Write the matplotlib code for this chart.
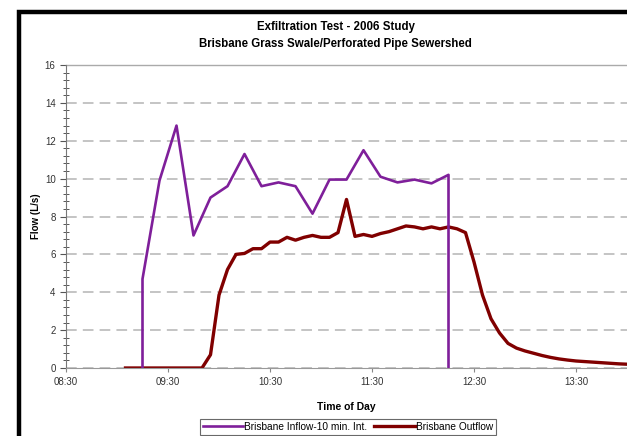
import matplotlib.pyplot as plt
from matplotlib.ticker import MultipleLocator, FuncFormatter
from matplotlib.patches import Rectangle

plt.rcParams['font.family'] = ['Liberation Sans', 'DejaVu Sans']

# Inflow, 10 minute intervals (time as "HH:MM", flow in L/s)
inflow_time = ['09:15', '09:15', '09:25', '09:35', '09:45', '09:55', '10:05',
               '10:15', '10:25', '10:35', '10:45', '10:55', '11:05', '11:15',
               '11:25', '11:35', '11:45', '11:55', '12:05', '12:15', '12:15']
inflow_flow = [0.0, 4.7, 9.9, 12.8, 7.0, 9.0, 9.6,
               11.3, 9.6, 9.8, 9.6, 8.15, 9.95, 9.95,
               11.5, 10.1, 9.8, 9.95, 9.75, 10.2, 0.0]

# Outflow, 5 minute intervals
outflow_time = ['09:05', '09:10', '09:15', '09:20', '09:25', '09:30', '09:35',
                '09:40', '09:45', '09:50', '09:55', '10:00', '10:05', '10:10',
                '10:15', '10:20', '10:25', '10:30', '10:35', '10:40', '10:45',
                '10:50', '10:55', '11:00', '11:05', '11:10', '11:15', '11:20',
                '11:25', '11:30', '11:35', '11:40', '11:45', '11:50', '11:55',
                '12:00', '12:05', '12:10', '12:15', '12:20', '12:25', '12:30',
                '12:35', '12:40', '12:45', '12:50', '12:55', '13:00', '13:05',
                '13:10', '13:15', '13:20', '13:25', '13:30', '13:35', '13:40',
                '13:45', '13:50', '13:55', '14:00']
outflow_flow = [0, 0, 0, 0, 0, 0, 0,
                0, 0, 0, 0.7, 3.85, 5.2, 6.0,
                6.05, 6.3, 6.3, 6.65, 6.65, 6.9, 6.75,
                6.9, 7.0, 6.9, 6.9, 7.15, 8.9, 6.95,
                7.05, 6.95, 7.1, 7.2, 7.35, 7.5, 7.45,
                7.35, 7.45, 7.35, 7.45, 7.35, 7.15, 5.6,
                3.85, 2.6, 1.85, 1.3, 1.05, 0.9, 0.78,
                0.66, 0.56, 0.48, 0.42, 0.37, 0.34, 0.31,
                0.28, 0.25, 0.22, 0.2]

x_ticks = ['08:30', '09:30', '10:30', '11:30', '12:30', '13:30']


def to_hours(s):
    h, m = s.split(':')
    return int(h) + int(m) / 60


fig = plt.figure(figsize=(6.27, 4.36), dpi=100)
ax = fig.add_axes([66 / 627, 1 - 368 / 436, 561 / 627, 303 / 436])

purple = '#7f1f9a'
maroon = '#800000'
ax.plot([to_hours(t) for t in inflow_time], inflow_flow, color=purple, lw=1.9,
        label='Brisbane Inflow-10 min. Int.', zorder=3)
ax.plot([to_hours(t) for t in outflow_time], outflow_flow, color=maroon, lw=2.4,
        label='Brisbane Outflow', zorder=2)

ax.set_xlim(to_hours('08:30'), to_hours('14:00'))
ax.set_ylim(0, 16)
ax.set_xticks([to_hours(t) for t in x_ticks])
ax.set_xticklabels(x_ticks)
ax.yaxis.set_major_locator(MultipleLocator(2))
ax.yaxis.set_minor_locator(MultipleLocator(0.4))
ax.yaxis.set_major_formatter(FuncFormatter(lambda v, p: f'{v:g}'))

ax.tick_params(axis='both', labelsize=7, colors='#333333', length=3, width=0.8)
ax.tick_params(axis='y', which='minor', direction='inout', length=4,
               width=0.7, colors='#555555')
ax.tick_params(axis='y', which='major', length=4, colors='#555555',
               labelcolor='#333333')
ax.tick_params(axis='x', colors='#888888', labelcolor='#333333')

ax.grid(axis='y', color='#b4b4b4', linestyle=(0, (7, 4)), lw=1.1)
for side in ['top', 'right']:
    ax.spines[side].set_visible(False)
ax.spines['left'].set_color('#777777')
ax.spines['bottom'].set_color('#999999')
ax.axhline(16, color='#aaaaaa', lw=1.0, clip_on=False)

ax.set_ylabel('Flow (L/s)', fontsize=7, fontweight='bold', labelpad=3)
ax.set_xlabel('Time of Day', fontsize=7.5, fontweight='bold', labelpad=11)

fig.text(0.535, 0.938, 'Exfiltration Test - 2006 Study', ha='center',
         va='center', fontsize=8.3, fontweight='bold')
fig.text(0.535, 0.900, 'Brisbane Grass Swale/Perforated Pipe Sewershed',
         ha='center', va='center', fontsize=8.3, fontweight='bold')

leg = fig.legend(loc='center', bbox_to_anchor=(348 / 627, 1 - 427 / 436),
                 ncol=2, fontsize=7.3, frameon=True, fancybox=False,
                 handlelength=4.0, handletextpad=0.1, columnspacing=0.7,
                 borderpad=0.25)
leg.get_frame().set_edgecolor('#444444')
leg.get_frame().set_linewidth(0.8)

# outer chart border
fig.patches.append(Rectangle((19 / 627, -0.1), 1.2, 1 - 12 / 436 + 0.1,
                             transform=fig.transFigure, fill=False,
                             edgecolor='black', lw=3.2))

fig.savefig('out.png', dpi=100)
